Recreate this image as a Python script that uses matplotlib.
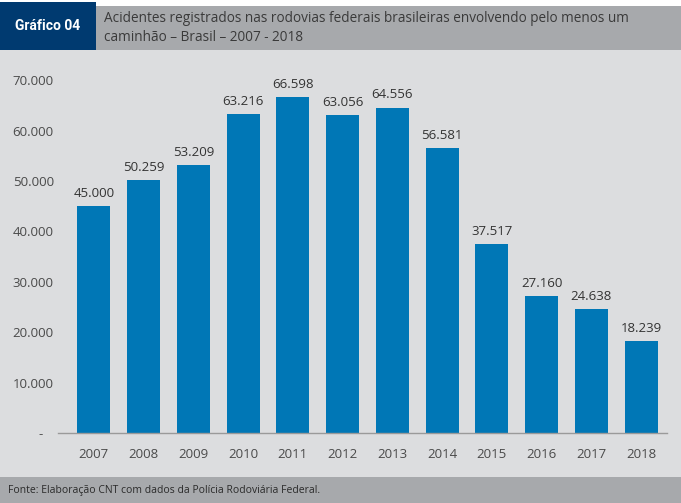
import matplotlib.pyplot as plt
from matplotlib.patches import Rectangle

anos = ["2007", "2008", "2009", "2010", "2011", "2012",
        "2013", "2014", "2015", "2016", "2017", "2018"]
acidentes = [45000, 50259, 53209, 63216, 66598, 63056,
             64556, 56581, 37517, 27160, 24638, 18239]
yticks = [0, 10000, 20000, 30000, 40000, 50000, 60000, 70000]

W, H = 681, 503
plt.rcParams['font.family'] = ['Open Sans', 'DejaVu Sans']

fig = plt.figure(figsize=(W / 100, H / 100), dpi=100)
fig.patch.set_facecolor('white')

def px_rect(x0, y0, x1, y1, color):
    # rectangle given in pixel coords (top-left origin)
    fig.patches.append(Rectangle((x0 / W, 1 - y1 / H), (x1 - x0) / W, (y1 - y0) / H,
                                 transform=fig.transFigure, facecolor=color,
                                 edgecolor='none', zorder=-10))

px_rect(0, 50, W, 477, '#dcdddf')
px_rect(96, 6, W, 50, '#a7a9ac')
px_rect(0, 2, 96, 50, '#003a70')
px_rect(0, 477, W, H, '#a7a9ac')

fig.text(48 / W, 1 - 26 / H, "Gráfico 04", color='white', fontsize=10,
         fontweight='bold', ha='center', va='center', family=['Roboto', 'DejaVu Sans'])
fig.text(104 / W, 1 - 28 / H,
         "Acidentes registrados nas rodovias federais brasileiras envolvendo pelo menos um\ncaminhão – Brasil – 2007 - 2018",
         color='#3a3a3a', fontsize=9.8, ha='left', va='center', linespacing=1.4)
fig.text(8 / W, 1 - 490 / H, "Fonte: Elaboração CNT com dados da Polícia Rodoviária Federal.",
         color='#2a2a2a', fontsize=7.5, ha='left', va='center')

ax = fig.add_axes([58 / W, 1 - 433 / H, (667 - 58) / W, (433 - 70) / H])
ax.set_facecolor('none')
x = range(len(anos))
ax.bar(x, acidentes, width=0.66, color='#0077b6', zorder=2)
for i, v in enumerate(acidentes):
    ax.text(i, v + 1200, f"{v:,}".replace(",", "."), ha='center', va='bottom',
            fontsize=9.5, color='#333333')

ax.set_xlim(-0.72, 11.52)
ax.set_ylim(0, 72000)
ax.set_xticks(list(x))
ax.set_xticklabels(anos)
ax.set_yticks(yticks)
ax.set_yticklabels(["-   "] + [f"{t:,}".replace(",", ".") for t in yticks[1:]])
ax.tick_params(axis='both', length=0, colors='#4a4a4a', labelsize=9.5)
ax.tick_params(axis='x', pad=11)
ax.tick_params(axis='y', pad=3)
for s in ['top', 'right', 'left']:
    ax.spines[s].set_visible(False)
ax.spines['bottom'].set_color('#9a9a9a')
ax.spines['bottom'].set_linewidth(1)

fig.savefig("out.png", dpi=100)
